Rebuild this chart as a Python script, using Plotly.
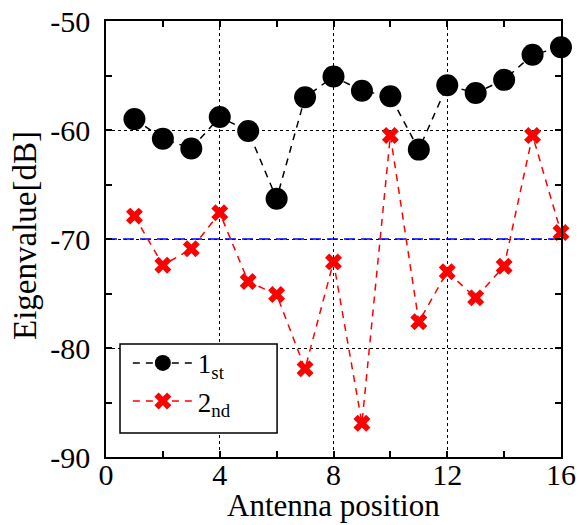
import plotly.graph_objects as go

positions = list(range(1, 17))
first = [-59.0, -60.8, -61.7, -58.8, -60.1, -66.3, -57.0, -55.1, -56.4, -56.9, -61.8, -55.9, -56.6, -55.4, -53.1, -52.4]
second = [-67.9, -72.4, -70.9, -67.6, -73.9, -75.1, -81.9, -72.1, -86.9, -60.5, -77.6, -73.0, -75.4, -72.5, -60.5, -69.4]
threshold = -70
x_ticks = [0, 4, 8, 12, 16]
y_ticks = [-90, -80, -70, -60, -50]

FONT = "Liberation Serif, Times New Roman, serif"

fig = go.Figure()
fig.add_trace(go.Scatter(
    x=[0, 16], y=[threshold, threshold], mode="lines",
    line=dict(color="#0000ff", width=1.5, dash="11px,6px"),
    showlegend=False, hoverinfo="skip"))
fig.add_trace(go.Scatter(
    x=positions, y=first, mode="lines+markers", name="1<sub>st</sub>",
    line=dict(color="black", width=1.5, dash="7px,6px"),
    marker=dict(symbol="circle", size=22, color="black"), cliponaxis=False))
fig.add_trace(go.Scatter(
    x=positions, y=second, mode="lines+markers", name="2<sub>nd</sub>",
    line=dict(color="#ff0000", width=1.5, dash="7px,6px"),
    marker=dict(symbol="x", size=15, color="#ff0000", line=dict(width=0)), cliponaxis=False))

axis_common = dict(
    showline=True, linecolor="black", linewidth=1.5, mirror="ticks",
    ticks="inside", ticklen=6, tickcolor="black", tickwidth=1.5,
    showgrid=True, gridcolor="black", gridwidth=1.2, griddash="dot",
    zeroline=False, tickfont=dict(family=FONT, size=30, color="black"),
    automargin=False,
)

fig.update_xaxes(range=[0, 16], tickvals=x_ticks, ticktext=[str(v) for v in x_ticks],
                 minor=dict(tickvals=[2, 6, 10, 14], ticks="inside", ticklen=6, tickcolor="black", tickwidth=1.5, showgrid=False),
                 ticklabelstandoff=-10,
                 **axis_common)
fig.update_yaxes(range=[-90, -50], tickvals=y_ticks, ticktext=[f"-{abs(v)}" for v in y_ticks],
                 minor=dict(tickvals=[-85, -75, -65, -55], ticks="inside", ticklen=6, tickcolor="black", tickwidth=1.5, showgrid=False),
                 ticklabelstandoff=8,
                 **axis_common)

fig.add_annotation(text="Antenna position", xref="paper", yref="paper", x=0.5, y=-0.111,
                   xanchor="center", yanchor="middle", showarrow=False,
                   font=dict(family=FONT, size=31, color="black"))
fig.add_annotation(text="Eigenvalue[dB]", xref="paper", yref="paper", x=-0.178, y=0.507,
                   xanchor="center", yanchor="middle", showarrow=False, textangle=-90,
                   font=dict(family=FONT, size=33, color="black"))

# legend frame
fig.add_shape(type="rect", xref="paper", yref="paper", x0=0.0308, x1=0.376, y0=0.055, y1=0.259,
              line=dict(color="black", width=1.5), fillcolor="white", layer="above")

fig.update_layout(
    width=579, height=525,
    margin=dict(l=106, r=18, t=21, b=68),
    plot_bgcolor="white", paper_bgcolor="white",
    font=dict(family=FONT, color="black"),
    legend=dict(x=0.048, y=0.271, xanchor="left", yanchor="top",
                bgcolor="rgba(0,0,0,0)", borderwidth=0,
                font=dict(family=FONT, size=27, color="black"),
                itemwidth=60),
)

fig.write_html("out.html", config={"displayModeBar": False},
               post_script="document.body.style.margin='0';document.body.style.overflow='hidden';")
